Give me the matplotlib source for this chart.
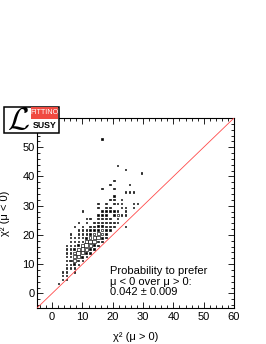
import numpy as np
import matplotlib
matplotlib.use("Agg")
import matplotlib.pyplot as plt
from matplotlib.patches import Rectangle
from matplotlib.collections import PatchCollection

plt.rcParams['font.family'] = ['Liberation Sans', 'DejaVu Sans']

# ---- binning of the 2D histogram (50 x 50 bins from -5 to 60) ----
x_edges = np.linspace(-5, 60, 51)
y_edges = np.linspace(-5, 60, 51)

# ---- cell contents: row (y-bin) -> x-bins and counts ----
row_ybin = [6, 7, 8, 9, 10, 11, 12, 13, 14, 15, 16, 17, 18, 19, 20, 21, 22, 23,
            24, 25, 26, 27, 28, 29, 30, 31, 32, 33, 35, 36, 37, 44]
row_xbins = [
    [5],
    [6, 7],
    [6, 7],
    [6, 7, 9],
    [7, 8, 9],
    [7, 8, 9, 10],
    [7, 8, 9, 10, 11],
    [7, 8, 9, 10, 11, 12],
    [7, 8, 9, 10, 11, 12, 13],
    [7, 8, 9, 10, 11, 12, 13, 14],
    [7, 8, 9, 10, 11, 12, 13, 14, 15],
    [8, 9, 10, 11, 12, 13, 14, 15, 16],
    [8, 9, 10, 11, 12, 13, 14, 15, 16, 17],
    [8, 10, 11, 12, 13, 14, 15, 16, 17],
    [10, 11, 12, 13, 14, 15, 16, 17, 18],
    [9, 11, 13, 14, 15, 16, 17, 18, 19, 22],
    [10, 12, 14, 15, 16, 17, 18, 19, 20],
    [12, 13, 15, 16, 17, 18, 20],
    [15, 16, 17, 19, 20, 21, 22],
    [11, 16, 17, 18, 19, 20, 22],
    [15, 17, 18, 21, 22, 24],
    [15, 17, 19, 20, 21, 24, 25],
    [18, 19, 21],
    [19],
    [22, 23, 24],
    [16, 19],
    [18, 23],
    [19],
    [26],
    [22],
    [20],
    [16],
]
row_counts = [
    [1],
    [1, 1],
    [1, 1],
    [1, 1, 1],
    [1, 1, 1],
    [1, 1, 2, 1],
    [1, 2, 3, 2, 1],
    [1, 1, 4, 5, 2, 1],
    [1, 1, 3, 7, 5, 2, 1],
    [1, 1, 2, 4, 6, 5, 2, 1],
    [1, 1, 1, 2, 4, 7, 4, 2, 1],
    [1, 1, 1, 1, 3, 6, 7, 2, 1],
    [1, 1, 1, 1, 2, 3, 4, 5, 2, 1],
    [1, 1, 1, 1, 2, 3, 4, 3, 1],
    [1, 1, 1, 1, 2, 2, 3, 2, 1],
    [1, 1, 1, 1, 2, 2, 1, 1, 1, 1],
    [1, 1, 1, 1, 2, 1, 1, 1, 1],
    [1, 1, 1, 1, 1, 1, 1],
    [1, 1, 1, 2, 3, 1, 1],
    [1, 1, 1, 1, 1, 1, 1],
    [1, 1, 1, 1, 1, 1],
    [1, 1, 1, 1, 1, 1, 1],
    [1, 1, 1],
    [1],
    [1, 1, 1],
    [1, 1],
    [1, 1],
    [1],
    [1],
    [1],
    [1],
    [1],
]

x_ticks = [0, 10, 20, 30, 40, 50, 60]
y_ticks = [0, 10, 20, 30, 40, 50]
xlabel = "χ² (μ > 0)"
ylabel = "χ² (μ < 0)"
annotation = "Probability to prefer\nμ < 0 over μ > 0:\n0.042 ± 0.009"

# ---- figure ----
W, H = 266, 344
fig = plt.figure(figsize=(W / 100, H / 100), dpi=100)
ax = fig.add_axes([37 / W, 1 - 308 / H, 197 / W, 190 / H])
ax.set_xlim(-5, 60)
ax.set_ylim(-5, 60)

x_cent = 0.5 * (x_edges[:-1] + x_edges[1:])
y_cent = 0.5 * (y_edges[:-1] + y_edges[1:])
bw = x_edges[1] - x_edges[0]
bh = y_edges[1] - y_edges[0]
cmax = max(max(r) for r in row_counts)

patches, faces = [], []
for yb, xbs, cs in zip(row_ybin, row_xbins, row_counts):
    for xb, c in zip(xbs, cs):
        f = np.sqrt(c / cmax) * 0.98
        w, h = bw * f, bh * f
        patches.append(Rectangle((x_cent[xb] - w / 2, y_cent[yb] - h / 2), w, h))
        faces.append('black' if c <= 2 else 'white')
pc = PatchCollection(patches, facecolors=faces, edgecolors='black', linewidths=0.45, zorder=3)
ax.add_collection(pc)

ax.plot([-5, 60], [-5, 60], color='#ff4a4a', lw=0.6, zorder=4)

ax.set_xticks(x_ticks)
ax.set_yticks(y_ticks)
ax.set_xticks(np.arange(-4, 61, 2), minor=True)
ax.set_yticks(np.arange(-4, 61, 2), minor=True)
ax.tick_params(which='both', direction='in', top=True, right=True, width=0.6, labelsize=8)
ax.tick_params(which='major', length=4.3)
ax.tick_params(which='minor', length=2.2)
ax.tick_params(axis='x', pad=3)
ax.tick_params(axis='y', pad=1.5)
for s in ax.spines.values():
    s.set_linewidth(0.8)

ax.set_xlabel(xlabel, fontsize=8)
ax.set_ylabel(ylabel, fontsize=8)
ax.xaxis.set_label_coords(0.5, -0.125)
ax.yaxis.set_label_coords(-0.135, 0.5)

ax.text(0.372, 0.222, annotation, transform=ax.transAxes, fontsize=8,
        va='top', ha='left', linespacing=1.1, zorder=5)

# ---- Fittino logo ----
lx0, ly0, lx1, ly1 = 4, 107, 59, 133
fig.patches.append(Rectangle((lx0 / W, 1 - ly1 / H), (lx1 - lx0) / W, (ly1 - ly0) / H,
                             transform=fig.transFigure, facecolor='white',
                             edgecolor='black', lw=1.1, zorder=10))
fig.patches.append(Rectangle((31 / W, 1 - 118.5 / H), 27 / W, 11.5 / H,
                             transform=fig.transFigure, facecolor='#f04a40',
                             edgecolor='none', zorder=11))
fig.text(44.5 / W, 1 - 113 / H, "FITTINO", color='white', fontsize=5.2,
         family=['Liberation Sans', 'DejaVu Sans'], ha='center', va='center', zorder=12)
fig.text(45 / W, 1 - 126 / H, "SUSY", color='black', fontsize=6.3, fontweight='bold',
         ha='center', va='center', zorder=12)
fig.text(18 / W, 1 - 121 / H, r"$\mathcal{L}$", color='black', fontsize=23,
         ha='center', va='center', math_fontfamily='cm', zorder=12)

fig.savefig("out.png", dpi=100)
